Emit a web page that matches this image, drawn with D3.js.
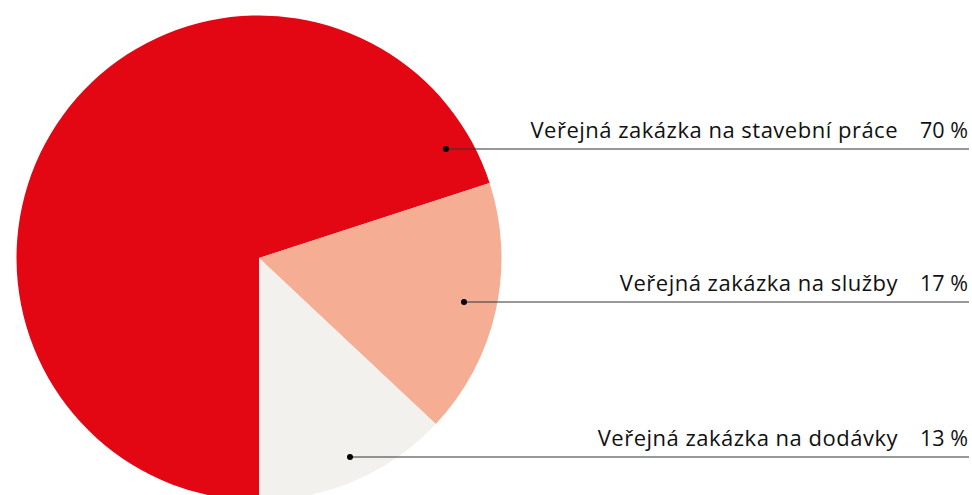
<!DOCTYPE html>
<html>
<head>
<meta charset="utf-8">
<script src="https://cdn.jsdelivr.net/npm/d3@7"></script>
<style>
  body { margin: 0; background: #fff; }
  svg { display: block; }
</style>
</head>
<body>
<div id="chart"></div>
<script>
// data
var categories = ['Veřejná zakázka na stavební práce', 'Veřejná zakázka na služby', 'Veřejná zakázka na dodávky'];
var shares = [70, 17, 13];
var shareLabels = ['70 %', '17 %', '13 %'];
var colors = ['#e30613', '#f5ae94', '#f2f1ed'];
// y of each leader line and x of its dot
var labelRows = [149, 302, 457];
var dotX = [446, 464, 350];

var dimensions = { width: 972, height: 495 };
var center = { x: 259, y: 258 };
var radius = 242.5;
var lineEnd = 969;
var fontFamily = '"Open Sans", sans-serif';

var svg = d3.select('#chart')
  .append('svg')
  .attr('width', dimensions.width)
  .attr('height', dimensions.height);

var pie = d3.pie()
  .sort(null)
  .value(d => d)
  .startAngle(Math.PI)
  .endAngle(3 * Math.PI);

var arcs = pie(shares);

var arc = d3.arc()
  .innerRadius(0)
  .outerRadius(radius);

var pieGroup = svg.append('g')
  .attr('transform', 'translate(' + center.x + ',' + center.y + ')');

pieGroup.selectAll('path')
  .data(arcs)
  .join('path')
  .attr('d', arc)
  .attr('fill', (d, i) => colors[i]);

// labels
var labels = svg.append('g');

labels.selectAll('line')
  .data(arcs)
  .join('line')
  .attr('x1', (d, i) => dotX[i])
  .attr('x2', lineEnd)
  .attr('y1', (d, i) => labelRows[i])
  .attr('y2', (d, i) => labelRows[i])
  .attr('stroke', '#333')
  .attr('stroke-width', 1.2);

labels.selectAll('circle')
  .data(arcs)
  .join('circle')
  .attr('cx', (d, i) => dotX[i])
  .attr('cy', (d, i) => labelRows[i])
  .attr('r', 3)
  .attr('fill', '#000');

labels.selectAll('text.name')
  .data(categories)
  .join('text')
  .attr('class', 'name')
  .attr('x', 898)
  .attr('y', (d, i) => labelRows[i] - 11)
  .attr('text-anchor', 'end')
  .attr('font-family', fontFamily)
  .attr('font-size', 22)
  .attr('letter-spacing', 0.5)
  .attr('fill', '#111')
  .text(d => d);

labels.selectAll('text.pct')
  .data(shareLabels)
  .join('text')
  .attr('class', 'pct')
  .attr('x', 968)
  .attr('y', (d, i) => labelRows[i] - 11)
  .attr('text-anchor', 'end')
  .attr('font-family', fontFamily)
  .attr('font-size', 21.5)
  .attr('fill', '#111')
  .text(d => d);
</script>
</body>
</html>
